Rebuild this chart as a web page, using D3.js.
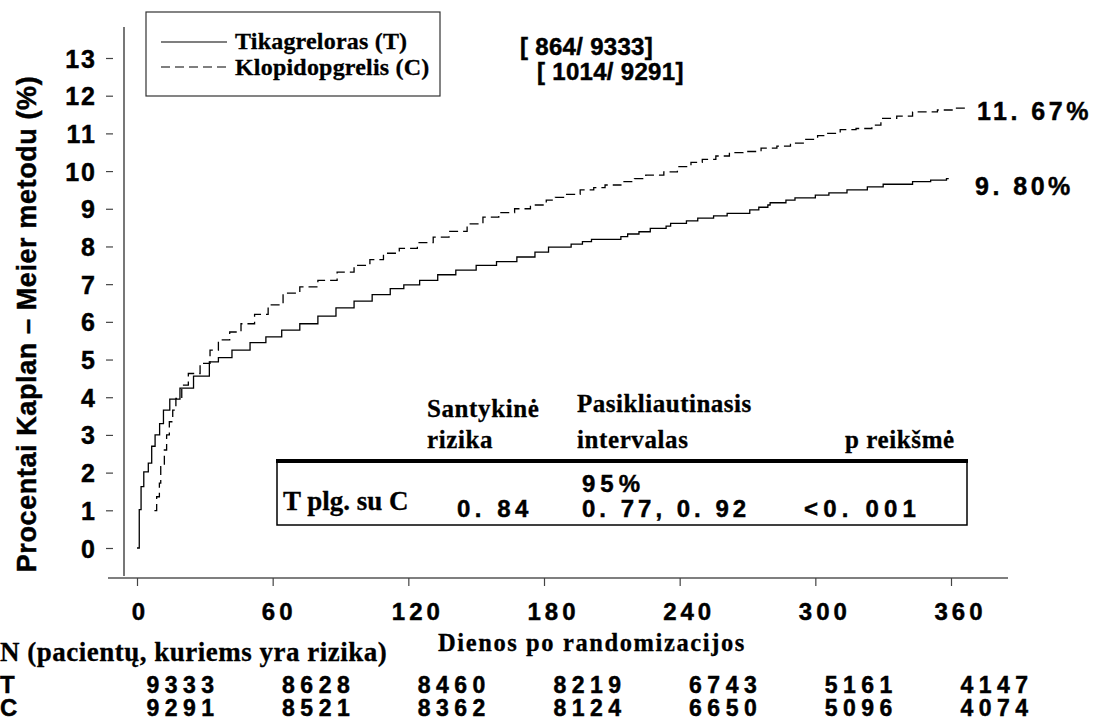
<!DOCTYPE html>
<html>
<head>
<meta charset="utf-8">
<script src="https://cdn.jsdelivr.net/npm/d3@7"></script>
<style>
  body { margin: 0; background: #fff; }
  .sans { font-family: "Liberation Sans", Arial, sans-serif; font-weight: bold; fill: #000; stroke: #000; stroke-width: 0.45px; }
  .serif { font-family: "Liberation Serif", "Times New Roman", serif; font-weight: bold; fill: #000; stroke: #000; stroke-width: 0.3px; }
</style>
</head>
<body>
<svg id="chart" width="1095" height="724"></svg>
<script>
// Kaplan-Meier cumulative event rate (%), step points: day of jump, new value
const tDays = [0, 1, 1.8, 3, 5, 6.5, 8, 10, 11.7, 14.5, 19, 25, 32, 36, 42, 50, 57, 64, 72, 80, 88, 96, 104, 112, 118, 125, 133, 141, 150, 159, 168, 176, 182, 192, 197, 201, 214, 217, 222, 227, 234, 236, 243, 248, 255, 261, 271, 275, 279, 280, 287, 291, 300, 306, 314, 323, 330, 343, 351, 358, 359];
const tPct  = [0, 1.02, 1.63, 2.02, 2.25, 2.7, 3.0, 3.3, 3.66, 3.95, 4.24, 4.56, 4.94, 5.05, 5.25, 5.45, 5.6, 5.78, 5.95, 6.15, 6.37, 6.55, 6.72, 6.88, 6.98, 7.1, 7.25, 7.37, 7.5, 7.6, 7.72, 7.85, 7.98, 8.06, 8.13, 8.19, 8.26, 8.33, 8.39, 8.48, 8.54, 8.61, 8.68, 8.75, 8.81, 8.88, 8.97, 9.04, 9.1, 9.16, 9.23, 9.29, 9.36, 9.42, 9.5, 9.58, 9.65, 9.72, 9.76, 9.80, 9.80];

const cDays = [7.7, 8.7, 9.9, 10.5, 12.1, 13.1, 14.3, 15.8, 17.2, 19.8, 22.7, 27.9, 32.3, 36, 41, 46, 52, 58, 64.6, 72, 80, 88.5, 96, 103, 109, 116, 124, 131, 138, 146, 153, 160, 167, 174, 181, 185, 190, 196, 202, 207, 214, 220, 225, 233, 239, 245, 250, 256, 262, 268, 276, 283, 289, 295, 301, 305, 311, 318, 325, 329, 336, 343, 354, 361, 367];
const cPct  = [0.99, 1.36, 1.72, 2.16, 2.6, 3.0, 3.35, 3.66, 3.97, 4.32, 4.63, 4.9, 5.25, 5.52, 5.73, 5.95, 6.2, 6.45, 6.76, 6.93, 7.1, 7.32, 7.5, 7.65, 7.82, 7.95, 8.1, 8.25, 8.4, 8.6, 8.78, 8.9, 9.0, 9.1, 9.23, 9.3, 9.38, 9.5, 9.56, 9.63, 9.72, 9.8, 9.89, 9.98, 10.12, 10.23, 10.31, 10.4, 10.49, 10.52, 10.61, 10.66, 10.74, 10.84, 10.94, 11.0, 11.1, 11.13, 11.22, 11.4, 11.46, 11.57, 11.62, 11.67, 11.67];

const xTicks = [0, 60, 120, 180, 240, 300, 360];
const yTicks = [0, 1, 2, 3, 4, 5, 6, 7, 8, 9, 10, 11, 12, 13];

// patients at risk at each x tick
const riskT = [9333, 8628, 8460, 8219, 6743, 5161, 4147];
const riskC = [9291, 8521, 8362, 8124, 6650, 5096, 4074];

const seriesNames = ["Tikagreloras (T)", "Klopidopgrelis (C)"];
const eventCounts = ["[ 864/ 9333]", "[ 1014/ 9291]"];

// hazard ratio summary
const hrRowLabel = "T plg. su C";
const hrValue = "0. 84";
const ciLabel = "95%";
const ciValue = "0. 77, 0. 92";
const pValue = "<0. 001";

const svg = d3.select("#chart");

const x = d3.scaleLinear().domain([0, 360]).range([137, 951]);
const y = d3.scaleLinear().domain([0, 13]).range([548, 58]);

function label(s, px, py, cls, size, ls, anchor) {
  return svg.append("text")
    .attr("class", cls)
    .attr("x", px).attr("y", py)
    .attr("font-size", size)
    .attr("letter-spacing", ls || 0)
    .attr("text-anchor", anchor || "start")
    .text(s);
}

// ---- axes ----
svg.append("line").attr("x1", 124).attr("x2", 124).attr("y1", 27).attr("y2", 576)
  .attr("stroke", "#555").attr("stroke-width", 1.6);
svg.append("line").attr("x1", 108).attr("x2", 1008).attr("y1", 578).attr("y2", 578)
  .attr("stroke", "#555").attr("stroke-width", 1.6);

const yAxis = svg.append("g").attr("transform", "translate(113,0)")
  .call(d3.axisLeft(y).tickValues(yTicks).tickSize(7).tickPadding(9).tickFormat(d3.format("d")));
yAxis.select(".domain").remove();
yAxis.selectAll(".tick line").attr("stroke", "#444").attr("stroke-width", 1.2);
yAxis.selectAll(".tick text").attr("class", "sans").attr("font-size", 25)
  .attr("letter-spacing", 2).attr("dy", "0.36em");

const xAxis = svg.append("g").attr("transform", "translate(0,578)")
  .call(d3.axisBottom(x).tickValues(xTicks).tickSize(8).tickPadding(17).tickFormat(d3.format("d")));
xAxis.select(".domain").remove();
xAxis.selectAll(".tick line").attr("stroke", "#444").attr("stroke-width", 1.2);
xAxis.selectAll(".tick text").attr("class", "sans").attr("font-size", 24)
  .attr("letter-spacing", 4).attr("dx", d => String(d).length * 3);

// axis titles
svg.append("text").attr("class", "sans")
  .attr("transform", "translate(36,324) rotate(-90)")
  .attr("text-anchor", "middle").attr("font-size", 27).attr("letter-spacing", 0.6)
  .text("Procentai Kaplan – Meier metodu (%)");
label("Dienos po randomizacijos", 438, 651, "serif", 24.5, 1.6);

// ---- curves ----
const stepLine = d3.line().x(d => x(d[0])).y(d => y(d[1])).curve(d3.curveStepAfter);
const tData = tDays.map((d, i) => [d, tPct[i]]);
const cData = cDays.map((d, i) => [d, cPct[i]]);

svg.append("path").datum(tData).attr("d", stepLine)
  .attr("fill", "none").attr("stroke", "#000").attr("stroke-width", 1.3);
svg.append("path").datum(cData).attr("d", stepLine)
  .attr("fill", "none").attr("stroke", "#000").attr("stroke-width", 1.3)
  .attr("stroke-dasharray", "9,5");

// end-of-curve percentages
const pctFmt = v => d3.format(".2f")(v).replace(".", ". ") + "%";
label(pctFmt(cPct[cPct.length - 1]), 977, 120, "sans", 25, 3.5);
label(pctFmt(tPct[tPct.length - 1]), 975, 195, "sans", 25, 3.5);

// ---- legend ----
svg.append("rect").attr("x", 146).attr("y", 12).attr("width", 294).attr("height", 84)
  .attr("fill", "none").attr("stroke", "#333").attr("stroke-width", 1.2);
svg.append("line").attr("x1", 161).attr("x2", 227).attr("y1", 42).attr("y2", 42)
  .attr("stroke", "#000").attr("stroke-width", 1.2);
svg.append("line").attr("x1", 161).attr("x2", 227).attr("y1", 67).attr("y2", 67)
  .attr("stroke", "#000").attr("stroke-width", 1.2).attr("stroke-dasharray", "9,5");
label(seriesNames[0], 235, 49, "serif", 24, 0.2);
label(seriesNames[1], 235, 75, "serif", 24, 0.2);
label(eventCounts[0], 520, 55, "sans", 24, 0.3);
label(eventCounts[1], 537, 80, "sans", 24, 0.3);

// ---- hazard ratio table ----
label("Santykinė", 427, 417, "serif", 25, 0.6);
label("rizika", 427, 448, "serif", 25, 0.6);
label("Pasikliautinasis", 577, 412, "serif", 25, 0.5);
label("intervalas", 577, 448, "serif", 25, 0.6);
label("p reikšmė", 845, 448, "serif", 25, 0.6);

svg.append("rect").attr("x", 277).attr("y", 461).attr("width", 690).attr("height", 64)
  .attr("fill", "none").attr("stroke", "#000").attr("stroke-width", 1.5);
svg.append("line").attr("x1", 276).attr("x2", 968).attr("y1", 461).attr("y2", 461)
  .attr("stroke", "#000").attr("stroke-width", 4);

label(hrRowLabel, 283, 510, "serif", 27, 0);
label(hrValue, 457, 517, "sans", 24, 4.5);
label(ciLabel, 582, 492, "sans", 24, 5);
label(ciValue, 582, 517, "sans", 24, 4);
label(pValue, 804, 517, "sans", 24, 5.2);

// ---- numbers at risk ----
label("N (pacientų, kuriems yra rizika)", 0, 661, "serif", 27, 0.5);
label("T", 0, 693, "sans", 24, 0);
label("C", 0, 716, "sans", 24, 0);
svg.append("g").selectAll("text").data(riskT).join("text")
  .attr("class", "sans").attr("x", (d, i) => x(xTicks[i]) + 46).attr("y", 693)
  .attr("font-size", 23).attr("letter-spacing", 5.5).attr("text-anchor", "middle")
  .text(d => d);
svg.append("g").selectAll("text").data(riskC).join("text")
  .attr("class", "sans").attr("x", (d, i) => x(xTicks[i]) + 46).attr("y", 716)
  .attr("font-size", 23).attr("letter-spacing", 5.5).attr("text-anchor", "middle")
  .text(d => d);
</script>
</body>
</html>
